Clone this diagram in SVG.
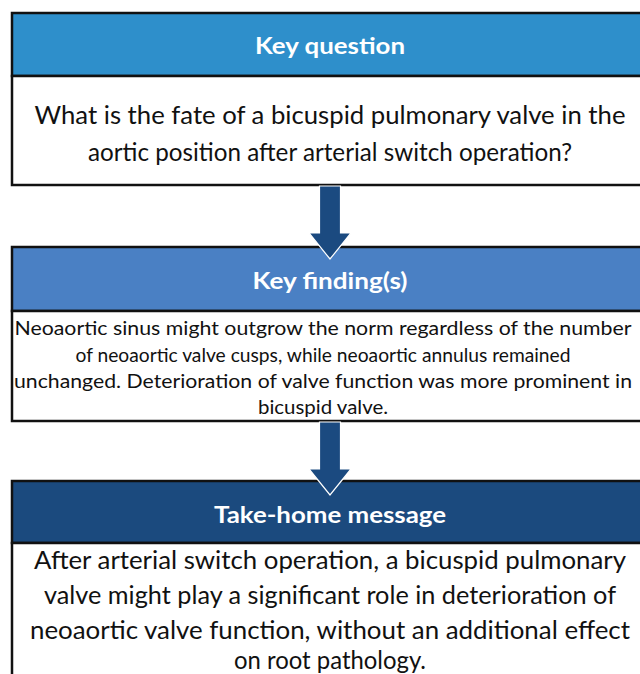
<svg xmlns="http://www.w3.org/2000/svg" width="640" height="674" viewBox="0 0 640 674">
<style>
.hd{font-family:Lato,"Open Sans",sans-serif;font-weight:bold;fill:#fff;text-anchor:middle}
.bd{font-family:Lato,"Open Sans",sans-serif;fill:#111;text-anchor:middle}
.box{stroke:#111;stroke-width:2.5}
.arr{fill:#1b4a80;stroke:#fff;stroke-width:1.2}
</style>
<rect width="640" height="674" fill="#fff"/>
<g id="key-question">
<rect class="box" x="12" y="13" width="640" height="63" fill="#2e8fcb"/>
<rect class="box" x="12" y="76" width="640" height="109" fill="#fff"/>
<text class="hd" x="330" y="54" font-size="23" textLength="150" lengthAdjust="spacingAndGlyphs">Key question</text>
<text class="bd" x="330" y="124" font-size="25" textLength="591" lengthAdjust="spacingAndGlyphs">What is the fate of a bicuspid pulmonary valve in the</text>
<text class="bd" x="330" y="161" font-size="25" textLength="484" lengthAdjust="spacingAndGlyphs">aortic position after arterial switch operation?</text>
</g>
<g id="key-findings">
<rect class="box" x="12" y="247" width="640" height="64" fill="#4a80c4"/>
<rect class="box" x="12" y="311" width="640" height="110" fill="#fff"/>
<text class="hd" x="330" y="289" font-size="23" textLength="155" lengthAdjust="spacingAndGlyphs">Key finding(s)</text>
<text class="bd" x="323" y="335" font-size="19.5" textLength="617" lengthAdjust="spacingAndGlyphs">Neoaortic sinus might outgrow the norm regardless of the number</text>
<text class="bd" x="323" y="362" font-size="19.5" textLength="495" lengthAdjust="spacingAndGlyphs">of neoaortic valve cusps, while neoaortic annulus remained</text>
<text class="bd" x="323" y="388" font-size="19.5" textLength="618" lengthAdjust="spacingAndGlyphs">unchanged. Deterioration of valve function was more prominent in</text>
<text class="bd" x="323" y="414" font-size="19.5" textLength="130" lengthAdjust="spacingAndGlyphs">bicuspid valve.</text>
</g>
<g id="take-home">
<rect class="box" x="12" y="481" width="640" height="62" fill="#1b4a7e"/>
<rect class="box" x="12" y="543" width="640" height="140" fill="#fff"/>
<text class="hd" x="330" y="523" font-size="23" textLength="232" lengthAdjust="spacingAndGlyphs">Take-home message</text>
<text class="bd" x="330" y="569" font-size="25" textLength="592" lengthAdjust="spacingAndGlyphs">After arterial switch operation, a bicuspid pulmonary</text>
<text class="bd" x="330" y="604" font-size="25" textLength="572" lengthAdjust="spacingAndGlyphs">valve might play a significant role in deterioration of</text>
<text class="bd" x="330" y="639" font-size="25" textLength="600" lengthAdjust="spacingAndGlyphs">neoaortic valve function, without an additional effect</text>
<text class="bd" x="330" y="669" font-size="25" textLength="192" lengthAdjust="spacingAndGlyphs">on root pathology.</text>
</g>
<g id="connectors">
<path class="arr" d="M319.5,186 H340.5 V233 H351 L330,259 L309,233 H319.5 Z"/>
<path class="arr" d="M319.5,422 H340.5 V469 H351 L330,495 L309,469 H319.5 Z"/>
</g>
</svg>
